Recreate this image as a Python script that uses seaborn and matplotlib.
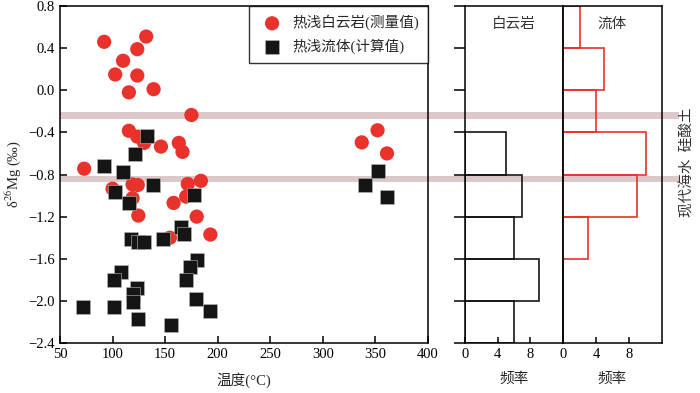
import numpy as np
import pandas as pd
import matplotlib
matplotlib.use('Agg')
import matplotlib.pyplot as plt
import matplotlib.transforms as mtransforms
from matplotlib.patches import Rectangle
import seaborn as sns

# 热浅白云岩(测量值)  温度, δ26Mg
dolo_t = [92, 132, 123.5, 110, 102.5, 123.5, 115.5, 139, 175,
          115.5, 123.5, 130, 146, 163, 166.5, 73, 100, 119, 124,
          119, 124.5, 171.5, 184, 170, 158, 180, 154.5, 193,
          352, 337, 361]
dolo_mg = [0.46, 0.51, 0.39, 0.28, 0.15, 0.14, -0.02, 0.01, -0.235,
           -0.385, -0.44, -0.50, -0.535, -0.50, -0.585, -0.745, -0.935, -0.895, -0.90,
           -1.025, -1.19, -0.89, -0.86, -1.01, -1.07, -1.20, -1.40, -1.37,
           -0.38, -0.495, -0.60]

# 热浅流体(计算值)
fluid_t = [132.5, 121.5, 92, 110, 138, 102.5, 116, 177, 165.5, 168,
           117.5, 124, 130, 147.5, 180.5, 173.5, 170, 108, 101.5,
           123.5, 119, 119, 72, 101.5, 179.5, 193, 124, 156,
           352, 340, 361]
fluid_mg = [-0.43, -0.61, -0.72, -0.78, -0.90, -0.97, -1.07, -0.995, -1.30, -1.365,
            -1.41, -1.44, -1.44, -1.41, -1.61, -1.68, -1.80, -1.73, -1.80,
            -1.88, -1.935, -2.01, -2.055, -2.06, -1.98, -2.095, -2.17, -2.23,
            -0.765, -0.90, -1.01]

# histogram counts (bins 0.4 wide)
hist1_edges = [-2.4, -2.0, -1.6, -1.2, -0.8, -0.4]
hist1_counts = [6, 9, 6, 7, 5]
hist2_edges = [-1.6, -1.2, -0.8, -0.4, 0.0, 0.4, 0.8]
hist2_counts = [3, 9, 10, 4, 5, 2]

# reference bands: 硅酸土, 现代海水
band_centers = [-0.242, -0.843]
band_half = 0.032

yticks = [-2.4, -2.0, -1.6, -1.2, -0.8, -0.4, 0.0, 0.4, 0.8]
xticks = [50, 100, 150, 200, 250, 300, 350, 400]

red = '#e8322b'
blk = '#151515'
band_col = '#dcc8c8'

sns.set_style('ticks')
plt.rcParams['font.family'] = ['Liberation Serif', 'Noto Sans CJK SC']
plt.rcParams['mathtext.fontset'] = 'stix'
plt.rcParams['axes.linewidth'] = 1.1
fs = 10.5

fig = plt.figure(figsize=(7, 3.93), dpi=100)
ax = fig.add_axes([60/700, 1-343/393, 368/700, 337/393])
ax1 = fig.add_axes([465/700, 1-343/393, 98/700, 337/393], facecolor='none')
ax2 = fig.add_axes([563/700, 1-343/393, 99/700, 337/393], facecolor='none')

df1 = pd.DataFrame({'t': dolo_t, 'mg': dolo_mg})
df2 = pd.DataFrame({'t': fluid_t, 'mg': fluid_mg})
sns.scatterplot(data=df1, x='t', y='mg', ax=ax, marker='o', s=105, color=red,
                edgecolor='none', label='热浅白云岩(测量值)', zorder=3)
sns.scatterplot(data=df2, x='t', y='mg', ax=ax, marker='s', s=90, color=blk,
                edgecolor='#bbbbbb', linewidth=0.4, label='热浅流体(计算值)', zorder=3)

ax.set_xlim(50, 400)
ax.set_ylim(-2.4, 0.8)
ax.set_xticks(xticks)
ax.set_yticks(yticks)
ax.set_yticklabels([f'{v:.1f}'.replace('-', '\u2212') for v in yticks])
ax.tick_params(direction='in', length=5, width=1.1, labelsize=fs, colors='k')
ax.set_xlabel('温度(°C)', fontsize=fs, labelpad=8)
ax.set_ylabel('δ$^{26}$Mg (‰)', fontsize=fs, labelpad=4)
for s in ax.spines.values():
    s.set_color('k')

leg = ax.legend(loc='upper right', fontsize=fs, frameon=True, fancybox=False,
                borderaxespad=0, handletextpad=0.4, borderpad=0.6, labelspacing=0.6)
leg.get_frame().set_edgecolor('k')
leg.get_frame().set_linewidth(1.0)

# bands across all panels
tr = mtransforms.blended_transform_factory(fig.transFigure, ax.transData)
for c in band_centers:
    ax.add_patch(Rectangle((60/700, c - band_half), (679-60)/700, 2*band_half,
                           transform=tr, color=band_col, clip_on=False, zorder=0, lw=0))

# histograms
c1 = [(hist1_edges[i] + hist1_edges[i+1]) / 2 for i in range(len(hist1_counts))]
c2 = [(hist2_edges[i] + hist2_edges[i+1]) / 2 for i in range(len(hist2_counts))]
sns.histplot(y=c1, weights=hist1_counts, bins=hist1_edges, fill=False, color=blk,
             linewidth=1.2, ax=ax1)
sns.histplot(y=c2, weights=hist2_counts, bins=hist2_edges, fill=False, color=red,
             linewidth=1.2, ax=ax2)

for a, name in [(ax1, '白云岩'), (ax2, '流体')]:
    a.set_xlim(0, 12)
    a.set_ylim(-2.4, 0.8)
    a.set_xticks([0, 4, 8])
    a.tick_params(axis='x', direction='in', length=4, width=1.1, labelsize=fs, colors='k')
    a.set_xlabel('频率', fontsize=fs, labelpad=8)
    a.set_ylabel('')
    a.text(0.5, 0.945, name, transform=a.transAxes, ha='center', va='center',
           fontsize=fs, color='#333333')
    for s in a.spines.values():
        s.set_color('k')

ax1.set_yticks(yticks)
ax1.tick_params(axis='y', left=True, labelleft=False, direction='out', length=8,
                width=1.1, color='k')
ax2.tick_params(axis='y', left=False, labelleft=False)

fig.text(688/700, 1-162/393, '现代海水  硅酸土', rotation=90, ha='center', va='center',
         fontsize=fs, color='#333333')

fig.savefig('out.png', dpi=100)
